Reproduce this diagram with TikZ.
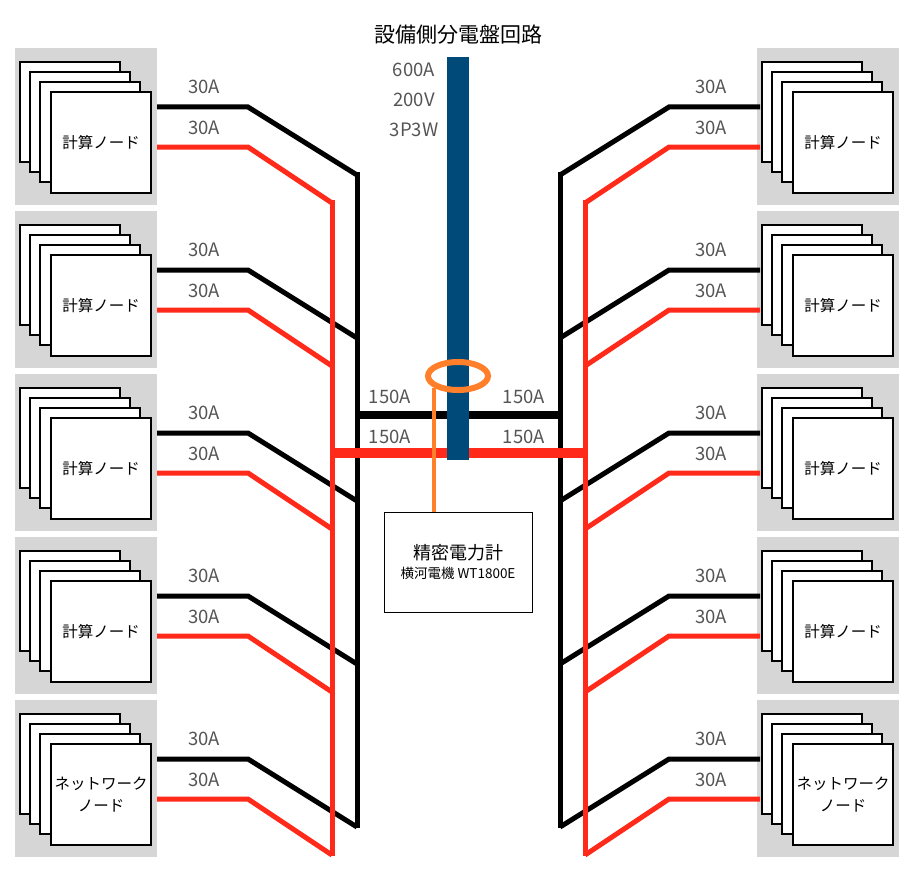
\documentclass[tikz,border=0pt]{standalone}
\usepackage{fontspec}
\setmainfont{Noto Sans CJK JP}
\definecolor{panelgray}{HTML}{D6D6D6}
\definecolor{busblue}{HTML}{004A7A}
\definecolor{feedred}{HTML}{FF2A1A}
\definecolor{ctorange}{HTML}{FF7F2A}
\definecolor{labelgray}{HTML}{555555}
\tikzset{
  panel/.style={fill=panelgray, draw=none},
  card/.style={draw=black, line width=2pt, fill=white},
  blackfeed/.style={black, line width=5pt},
  redfeed/.style={feedred, line width=5pt},
  amp/.style={text=labelgray, font=\fontsize{18.5}{18.5}\selectfont},
}
\begin{document}
\begin{tikzpicture}[x=1pt,y=-1pt]
  \useasboundingbox (0,0) rectangle (917,872);

  % Distribution panel
  \node[font=\fontsize{21}{21}\selectfont] (title) at (458,35) {設備側分電盤回路};
  \fill[busblue] (447,57) rectangle (469,460);
  \node[amp] (volt1) at (414,70) {600A};
  \node[amp] (volt2) at (414,100) {200V};
  \node[amp] (volt3) at (414,130) {3P3W};

  % Node groups on both sides
  \foreach \k/\name in {0/計算ノード,1/計算ノード,2/計算ノード,3/計算ノード,4/{ネットワーク\\ノード}} {
    \pgfmathsetmacro{\dy}{163*\k}
    \foreach \bx in {15,757} {
      \fill[panel] (\bx,48+\dy) rectangle (\bx+142,205+\dy);
      \foreach \o in {0,10,20} {
        \draw[card] (\bx+5+\o,62+\dy+\o) rectangle (\bx+105+\o,162+\dy+\o);
      }
      \node[card, minimum width=100pt, minimum height=101pt, align=center,
        font=\fontsize{15.5}{22}\selectfont] (node\bx-\k) at (\bx+86,142.5+\dy) {\name};
    }
    % Feeds
    \draw[blackfeed] (157,107+\dy) -- (248,107+\dy) -- (357,175+\dy);
    \draw[redfeed] (157,147+\dy) -- (248,147+\dy) -- (332,203+\dy);
    \draw[blackfeed] (760,107+\dy) -- (669,107+\dy) -- (560,175+\dy);
    \draw[redfeed] (760,147+\dy) -- (669,147+\dy) -- (585,203+\dy);
    \node[amp] at (204,87+\dy) {30A};
    \node[amp] at (204,128+\dy) {30A};
    \node[amp] at (711,87+\dy) {30A};
    \node[amp] at (711,128+\dy) {30A};
  }

  % Buses
  \draw[blackfeed] (357,172) -- (357,828);
  \draw[redfeed] (332,200) -- (332,856);
  \draw[blackfeed] (560,172) -- (560,828);
  \draw[redfeed] (585,200) -- (585,856);
  \draw[black, line width=8pt] (357,415) -- (560,415);
  \draw[feedred, line width=10pt] (332,453) -- (585,453);
  \fill[busblue] (447,400) rectangle (469,460);
  \node[amp] at (390,397) {150A};
  \node[amp] at (524,397) {150A};
  \node[amp] at (390,437) {150A};
  \node[amp] at (524,437) {150A};

  % Power meter
  \node[draw=black, line width=1pt, fill=white, minimum width=148pt, minimum height=100pt,
    align=center] (meter) at (458,562)
    {{\fontsize{18}{22}\selectfont 精密電力計}\\[5pt]{\fontsize{13.5}{18}\selectfont 横河電機 WT1800E}};
  \coordinate (ct) at (434,388);
  \draw[ctorange, line width=4pt] (ct) -- (ct |- meter.north);
  \draw[ctorange, line width=6pt] (458,376) ellipse (30 and 14);
\end{tikzpicture}
\end{document}
